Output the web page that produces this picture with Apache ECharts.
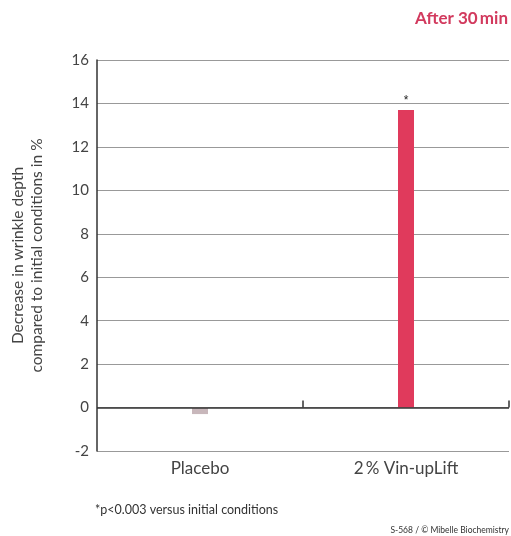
<!DOCTYPE html>
<html><head><meta charset="utf-8">
<script src="https://cdn.jsdelivr.net/npm/echarts@6/dist/echarts.min.js"></script>
<style>html,body{margin:0;padding:0;background:#fff}#c{width:511px;height:536px}</style>
</head><body><div id="c"></div>
<script>
const categories = ['Placebo', '2\u2009% Vin-upLift'];
const values = [-0.3, 13.7];
const significance = ['', '*'];
const barColors = ['#c8b7bb', '#e03a5c'];
const yTicks = [-2, 0, 2, 4, 6, 8, 10, 12, 14, 16];

const chart = echarts.init(document.getElementById('c'));
const font = 'Lato, "Open Sans", sans-serif';
chart.setOption({
  animation: false,
  backgroundColor: '#fff',
  title: [
    {text: 'After 30\u2009min', right: 3, top: 10, padding: 0,
     textStyle: {color: '#d23a5e', fontSize: 17, fontWeight: 'bold', fontFamily: font}},
    {text: '*p<0.003 versus initial conditions', left: 95, top: 503, padding: 0,
     textStyle: {color: '#333', fontSize: 12.5, fontWeight: 'normal', fontFamily: font}},
    {text: 'S-568 / \u00a9 Mibelle Biochemistry', right: 2, top: 526, padding: 0,
     textStyle: {color: '#333', fontSize: 8.5, fontWeight: 'normal', fontFamily: font}}
  ],
  grid: {left: 97, right: 2, top: 60, bottom: 85, containLabel: false, outerBoundsMode: 'none'},
  xAxis: {
    type: 'category', data: categories,
    axisLine: {show: false},
    axisTick: {show: false},
    axisLabel: {color: '#444', fontSize: 17, fontFamily: font, margin: 9}
  },
  yAxis: {
    type: 'value', min: yTicks[0], max: yTicks[yTicks.length - 1], interval: 2,
    name: 'Decrease in wrinkle depth\ncompared to initial conditions in %',
    nameLocation: 'middle', nameGap: 51, nameRotate: 90,
    nameTextStyle: {color: '#444', fontSize: 15.5, fontFamily: font, lineHeight: 19},
    axisLine: {show: true, lineStyle: {color: '#333', width: 1.5}},
    axisTick: {show: false},
    axisLabel: {color: '#444', fontSize: 15, fontFamily: font, margin: 8},
    splitLine: {show: true, lineStyle: {color: '#999', width: 1}}
  },
  series: [
    {
      type: 'bar', barWidth: 16,
      data: values.map((v, i) => ({value: v, itemStyle: {color: barColors[i]},
        label: {show: !!significance[i], position: 'top', formatter: significance[i],
                color: '#222', fontSize: 12, distance: 3}})),
      markLine: {
        symbol: 'none', silent: true,
        lineStyle: {color: '#333', width: 1.5, type: 'solid'},
        label: {show: false},
        data: [{yAxis: 0}]
      },
      z: 3
    },
    {
      type: 'custom', z: 4, silent: true,
      data: [[0], [1]],
      renderItem: function (params, api) {
        const idx = api.value(0);
        const start = api.coord([idx, 0]);
        const w = api.size([1, 0])[0];
        const x = start[0] + w / 2;
        return {type: 'line', shape: {x1: x, y1: start[1], x2: x, y2: start[1] - 7},
          style: {stroke: '#333', lineWidth: 1.5}};
      }
    }
  ]
});
</script>
</body></html>
